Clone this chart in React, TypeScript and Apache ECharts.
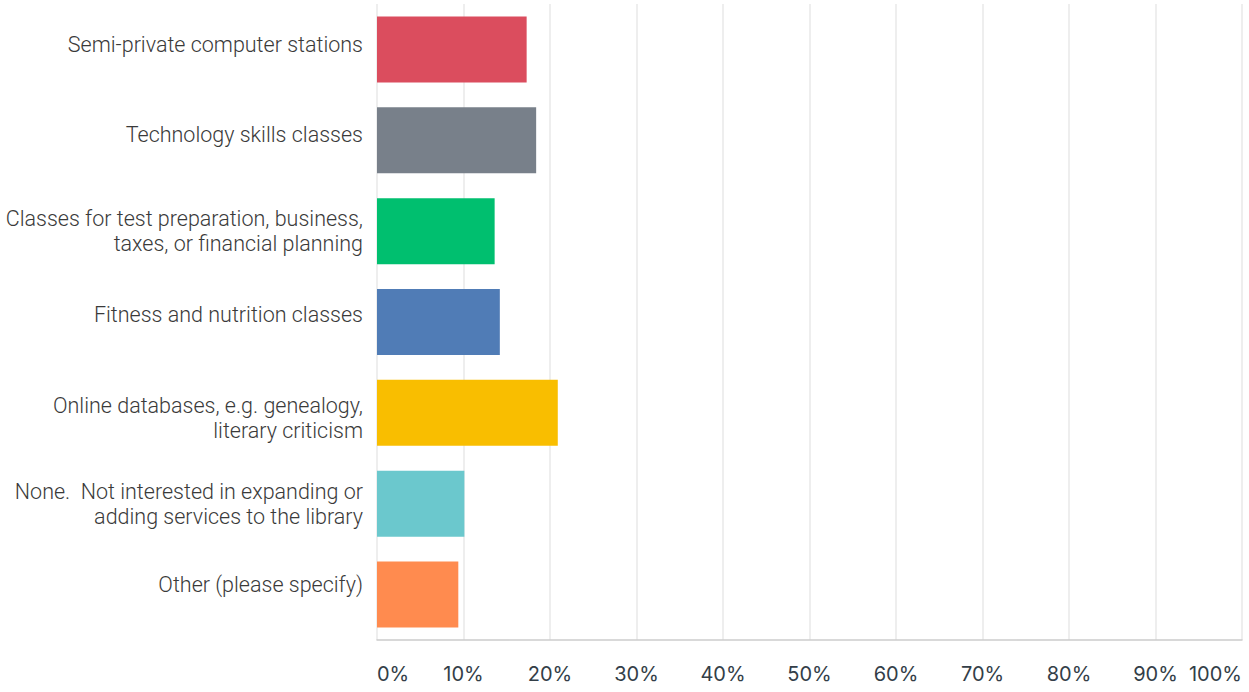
import React, { useEffect, useRef } from "react";
import * as echarts from "echarts";

const categories = [
  "Semi-private computer stations",
  "Technology skills classes",
  "Classes for test preparation, business,\ntaxes, or financial planning",
  "Fitness and nutrition classes",
  "Online databases, e.g. genealogy,\nliterary criticism",
  "None.  Not interested in expanding or\nadding services to the library",
  "Other (please specify)",
];
const values = [17.3, 18.4, 13.6, 14.2, 20.9, 10.1, 9.4];
const colors = ["#db4d5e", "#78808a", "#00bf6f", "#507cb6", "#f9be00", "#6bc8cd", "#ff8b4f"];
const xTicks = [0, 10, 20, 30, 40, 50, 60, 70, 80, 90, 100];
// vertical nudge of each label: negative lifts, positive lowers (px)
const labelNudge = [-5, -6, 0, -8, 5.5, 0, -10];

export default function App() {
  const ref = useRef<HTMLDivElement>(null);
  useEffect(() => {
    document.body.style.margin = "0";
    const chart = echarts.init(ref.current!, null, { renderer: "svg" });
    const baseText = {
      fontFamily: "Roboto",
      fontWeight: 300,
      fontSize: 21.5,
      lineHeight: 25,
      color: "#3a3a3a",
    };
    const rich: Record<string, any> = { n: { ...baseText } };
    labelNudge.forEach((d, i) => {
      rich["s" + i] = { fontSize: 1, lineHeight: Math.max(1, Math.abs(d) * 2) };
    });
    chart.setOption({
      animation: false,
      grid: { left: 377, right: 7, top: 4, bottom: 52, containLabel: false },
      xAxis: {
        type: "value",
        min: xTicks[0],
        max: xTicks[xTicks.length - 1],
        interval: 10,
        axisLine: { show: true, lineStyle: { color: "#cccccc", width: 1.5 } },
        axisTick: { show: false },
        splitLine: { show: true, lineStyle: { color: "#eeeeee", width: 2 } },
        axisLabel: {
          formatter: "{value}%",
          fontFamily: "Inter",
          fontSize: 20,
          color: "#333e48",
          margin: 24,
          alignMinLabel: "left",
          alignMaxLabel: "right",
        },
      },
      yAxis: {
        type: "category",
        data: categories,
        inverse: true,
        axisLine: { show: false },
        axisTick: { show: false },
        splitLine: { show: false },
        axisLabel: {
          ...baseText,
          margin: 14,
          align: "right",
          rich,
          formatter: (value: string, index: number) => {
            const body = value
              .split("\n")
              .map((line) => `{n|${line}}`)
              .join("\n");
            const d = labelNudge[index];
            if (d < 0) return `${body}\n{s${index}| }`;
            if (d > 0) return `{s${index}| }\n${body}`;
            return body;
          },
        },
      },
      series: [
        {
          type: "bar",
          barWidth: 66,
          data: values.map((v, i) => ({ value: v, itemStyle: { color: colors[i] } })),
        },
      ],
    });
    return () => chart.dispose();
  }, []);
  return <div ref={ref} style={{ width: 1249, height: 692 }} />;
}
